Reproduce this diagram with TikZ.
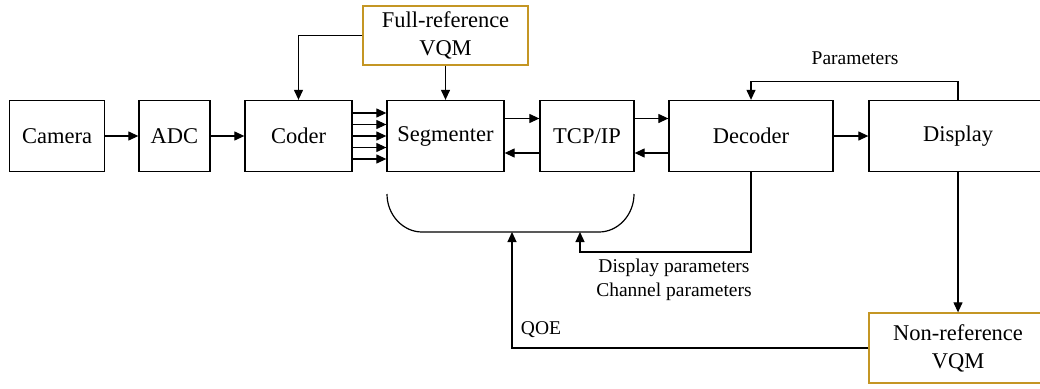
\documentclass[tikz,border=0pt]{standalone}
\usepackage{fontspec}
\setmainfont{Liberation Serif}
\usetikzlibrary{arrows.meta}
\definecolor{vqmgold}{RGB}{196,150,36}
\begin{document}
\begin{tikzpicture}[x=1pt,y=-1pt,
  blk/.style={draw=black, line width=1.3pt, minimum height=71pt, inner sep=0pt,
              font=\fontsize{22.5}{28}\selectfont, align=center},
  vqm/.style={draw=vqmgold, line width=1.3pt, inner sep=0pt,
              font=\fontsize{22.5}{28}\selectfont, align=center},
  lbl/.style={font=\fontsize{19.5}{24}\selectfont, align=center, inner sep=0pt},
  arr/.style={line width=1.2pt, -{Triangle[length=10pt,width=9pt]}},
  wire/.style={line width=1.2pt}]
\clip (0,0) rectangle (1040,388);
\fill[white] (0,0) rectangle (1040,388);

% processing chain
\node[blk, minimum width=95pt]  (cam) at (57,136)    {Camera};
\node[blk, minimum width=71pt]  (adc) at (174.5,136) {ADC};
\node[blk, minimum width=107pt] (cod) at (298.5,136) {Coder};
\node[blk, minimum width=117pt] (seg) at (445.5,136) {Segmenter};
\node[blk, minimum width=94pt]  (tcp) at (587,136)   {TCP/IP};
\node[blk, minimum width=164pt] (dec) at (751,136)   {Decoder};
\node[blk, minimum width=178pt] (dsp) at (958,136)   {Display};

% quality meters
\node[vqm, minimum width=165pt, minimum height=59pt] (fr) at (445.5,35.5) {Full-reference\\VQM};
\node[vqm, minimum width=178pt, minimum height=70pt] (nr) at (958,348) {Non-reference\\VQM};

% forward path
\draw[arr] (cam) -- (adc);
\draw[arr] (adc) -- (cod);
\foreach \d in {-23,-11.5,0,11.5,23}
  \draw[arr] ([yshift=\d pt]cod.east) -- ([yshift=\d pt]seg.west);
\draw[arr] ([yshift=17.5pt]seg.east) -- ([yshift=17.5pt]tcp.west);
\draw[arr] ([yshift=-17pt]tcp.west) -- ([yshift=-17pt]seg.east);
\draw[arr] ([yshift=17.5pt]tcp.east) -- ([yshift=17.5pt]dec.west);
\draw[arr] ([yshift=-17pt]dec.west) -- ([yshift=-17pt]tcp.east);
\draw[arr] (dec) -- (dsp);

% full-reference feedback
\draw[arr] (fr.west) -| (cod.north);
\draw[arr] (fr.south) -- (seg.north);

% display parameters back to the decoder
\draw[arr] (dsp.north) -- ++(0,-18) -| (dec.north);
\node[lbl] (par) at (855,58) {Parameters};

% display to non-reference meter
\draw[arr] (dsp.south) -- (nr.north);

% bracket under segmenter and TCP/IP
\draw[wire] (387,194) .. controls (387,215) and (403,232) .. (422,232)
  -- (599,232) .. controls (618,232) and (634,215) .. (634,194);
\coordinate (qoein) at (512,232);
\coordinate (parin) at (580,232);

\draw[arr] (nr.west) -| (qoein);
\draw[arr] (dec.south) |- ([yshift=-20pt]parin) -- (parin);

\node[lbl] (chp) at (674,280) {Display parameters\\Channel parameters};
\node[lbl] (qoe) at (541,330) {QOE};
\end{tikzpicture}
\end{document}
